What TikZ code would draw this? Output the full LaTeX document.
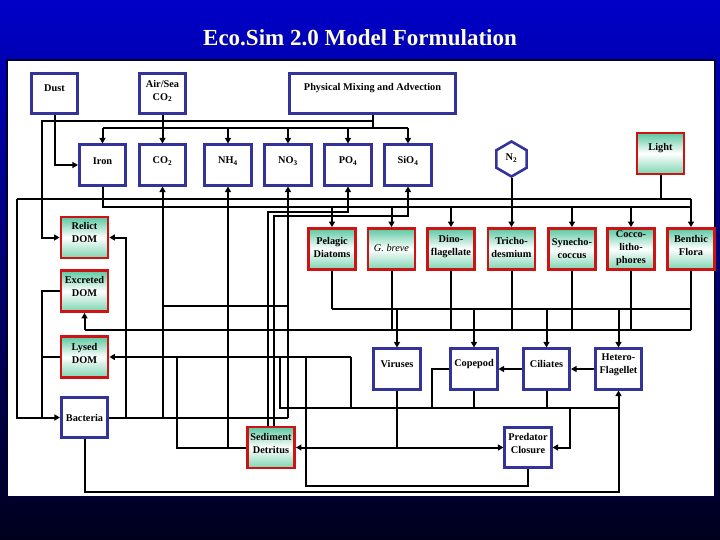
\documentclass[tikz,border=0pt]{standalone}
\usepackage{fontspec}
\setmainfont{Liberation Serif}
\usetikzlibrary{arrows.meta,shapes.geometric,calc}
\definecolor{bbord}{RGB}{51,51,153}
\definecolor{rbord}{RGB}{204,20,20}
\definecolor{gtop}{RGB}{90,200,160}
\definecolor{gbot}{RGB}{125,212,178}
\definecolor{ttl}{RGB}{255,255,210}
\definecolor{bgtop}{RGB}{0,0,200}
\definecolor{bgbot}{RGB}{0,0,28}
\definecolor{pedge}{RGB}{0,0,50}
\newcommand{\mkbox}[5]{\node[#1] (#2) at (#3) {}; \node[txt, yshift=#4] (#2-t) at (#2) {#5};}
\begin{document}
\begin{tikzpicture}[x=1pt,y=-1pt,
 bluebox/.style={draw=bbord, line width=2.6pt, fill=white, minimum width=46.5pt, minimum height=40.5pt, inner sep=0pt},
 redbox/.style={draw=rbord, line width=2.8pt, top color=gtop, bottom color=gbot, middle color=white, minimum width=47pt, minimum height=41pt, inner sep=0pt},
 txt/.style={font=\fontsize{10.3}{13}\selectfont\bfseries, align=center, inner sep=0pt, text=black},
 wire/.style={line width=2pt, black},
 arr/.style={wire, -{Triangle[length=5.5pt,width=6pt]}},
]
% background
\shade[top color=bgtop, bottom color=bgbot, use as bounding box] (0,0) rectangle (720,540);
\node[font=\fontsize{23}{26}\selectfont\bfseries, text=ttl] (title) at (360,38) {Eco.Sim 2.0 Model Formulation};
\draw[fill=white, draw=pedge, line width=1.5pt] (7,60) rectangle (715,497);

% top row
\mkbox{bluebox}{dust}{54.5,93.5}{5.5pt}{Dust}
\mkbox{bluebox}{airsea}{162.5,93.5}{2.5pt}{Air/Sea\\CO\textsubscript{2}}
\mkbox{bluebox,minimum width=166pt}{phys}{372.5,93.5}{5.5pt}{Physical Mixing and Advection}
% nutrients
\mkbox{bluebox}{iron}{102.5,165}{4pt}{Iron}
\mkbox{bluebox}{co2}{162.5,165}{4pt}{CO\textsubscript{2}}
\mkbox{bluebox}{nh4}{228,165}{4pt}{NH\textsubscript{4}}
\mkbox{bluebox}{no3}{288,165}{4pt}{NO\textsubscript{3}}
\mkbox{bluebox}{po4}{348,165}{4pt}{PO\textsubscript{4}}
\mkbox{bluebox}{sio4}{408,165}{4pt}{SiO\textsubscript{4}}
\node[draw=bbord, line width=2.6pt, fill=white, regular polygon, regular polygon sides=6, shape border rotate=30, minimum size=35pt, inner sep=0pt] (n2) at (511.5,159) {};
\node[txt, yshift=1pt] (n2-t) at (n2) {N\textsubscript{2}};
\mkbox{redbox}{light}{660.5,153.5}{5pt}{Light}
% phytoplankton
\mkbox{redbox}{diat}{332,249}{2pt}{Pelagic\\Diatoms}
\mkbox{redbox}{gbreve}{391.5,249}{1pt}{{\mdseries\itshape G. breve}}
\mkbox{redbox}{dino}{451,249}{2pt}{Dino-\\flagellate}
\mkbox{redbox}{tricho}{511.5,249}{2pt}{Tricho-\\desmium}
\mkbox{redbox}{syn}{572,249}{1pt}{Synecho-\\coccus}
\mkbox{redbox}{cocco}{631,249}{1pt}{Cocco-\\litho-\\phores}
\mkbox{redbox}{benth}{691,249}{4pt}{Benthic\\Flora}
% DOM, bacteria
\mkbox{redbox}{relict}{84.5,237.5}{5pt}{Relict\\DOM}
\mkbox{redbox}{excr}{84.5,291}{4.5pt}{Excreted\\DOM}
\mkbox{redbox}{lysed}{84.5,357}{4pt}{Lysed\\DOM}
\mkbox{bluebox}{bact}{84.5,417.5}{0pt}{Bacteria}
\mkbox{redbox}{sed}{271,447.5}{4.5pt}{Sediment\\Detritus}
% zooplankton
\mkbox{bluebox}{virus}{397,369}{5pt}{Viruses}
\mkbox{bluebox}{cope}{474,369}{5pt}{Copepod}
\mkbox{bluebox}{cil}{546.5,369}{5pt}{Ciliates}
\mkbox{bluebox}{het}{618.5,369}{4.5pt}{Hetero-\\Flagellet}
\mkbox{bluebox}{pred}{528,447.5}{4.5pt}{Predator\\Closure}

% ---- connectors ----
\draw[arr] (airsea.south) -- (co2.north);
\draw[wire] (phys.south) -- (372.5,128);
\draw[arr] (phys.south |- 0,121) -| (42,200) |- (relict.west);
\draw[wire] (iron.north |- 0,128) -- (sio4.north |- 0,128);
\foreach \n in {iron,nh4,no3,po4,sio4} \draw[arr] (\n.north |- 0,128) -- (\n.north);
\draw[arr] (dust.south) |- (iron.west);

% light / nutrient bus
\coordinate (bL) at (17,199);
\coordinate (bR) at (691,199);
\draw[wire] (bL) -- (bR);
\draw[arr] (bL) |- (bact.west);
\draw[arr] (bR) -- (benth.north);
\draw[wire] (light.south) -- (light.south |- bR);
% iron bus to phytoplankton
\draw[wire] (iron.south) |- (691,207);
\foreach \n in {diat,gbreve,dino,syn,cocco} \draw[arr] (\n.north |- 0,207) -- (\n.north);
\draw[arr] (n2.south) -- (tricho.north);

% recycling to nutrients
\draw[arr] (co2.south |- 0,417.5) -- (co2.south);
\draw[arr] (nh4.south |- 0,447.5) -- (nh4.south);
\draw[arr] (no3.south |- 0,417.5) -- (no3.south);
\draw[arr] ([xshift=-3pt]sed.north) |- (348,212) -- (po4.south);
\draw[arr] ([xshift=3pt]sed.north) |- (408,216) -- (sio4.south);
\draw[wire] (co2.south |- 0,306) -- (no3.south |- 0,306);

% phytoplankton outputs
\draw[wire] (diat.south) -- (diat.south |- 0,309);
\foreach \n in {gbreve,dino,tricho,syn,cocco,benth} \draw[wire] (\n.south) -- (\n.south |- 0,330);
\draw[wire] (diat.south |- 0,309) -- (benth.south |- 0,309);
\draw[wire] (excr.south |- 0,330) -- (benth.south |- 0,330);
\draw[arr] (excr.south |- 0,330) -- (excr.south);
\foreach \n in {virus,cope,cil,het} \draw[arr] (\n.north |- 0,309) -- (\n.north);

% DOM to bacteria
\draw[wire] (excr.west) -| (42,417.5);
\draw[wire] (lysed.west) -- (42,357);
\draw[wire] (bact.east) -- (288,417.5);
\draw[arr] (126,417.5) |- (relict.east);

% zooplankton losses
\draw[arr] (351,357) -- (lysed.east);
\draw[wire] (351,357) -- (351,408);
\draw[wire] (280,357) -- (280,408) -- (het.south |- 0,408);
\draw[wire] (cope.west) -| (432,408);
\draw[wire] (cope.south) -- (cope.south |- 0,408);
\draw[wire] (cil.south) -- (cil.south |- 0,408);
\draw[arr] (570,408) |- (pred.east);
\draw[arr] (cil.west) -- (cope.east);
\draw[arr] (het.west) -- (cil.east);

% viruses, sediment, predator
\draw[wire] (virus.south) -- (virus.south |- 0,447.5);
\draw[arr] (virus.south |- 0,447.5) -- (sed.east);
\draw[arr] (virus.south |- 0,447.5) -- (pred.west);
\draw[wire] (sed.west) -| (177,357);
\draw[wire] (pred.south) |- (306,486) -- (306,357);
\draw[arr] (bact.south) |- (618.5,492) -- (het.south);
\end{tikzpicture}
\end{document}
